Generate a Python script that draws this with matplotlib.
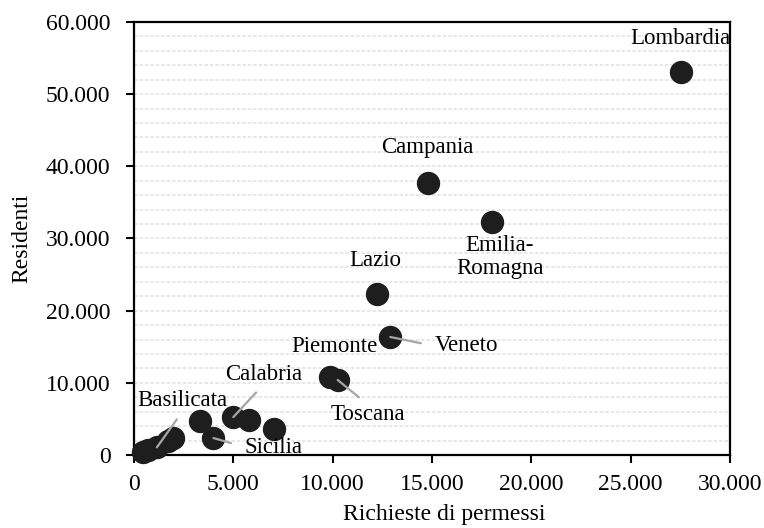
import matplotlib.pyplot as plt
from matplotlib.ticker import MultipleLocator, FuncFormatter

# data (approximate)
regions = ["Altre1", "Basilicata", "Altre2", "Altre3", "Sicilia", "Calabria", "Altre4",
           "Altre5", "Piemonte", "Toscana", "Veneto", "Lazio", "Emilia-Romagna",
           "Campania", "Lombardia", "Altre6", "Altre7"]
permessi = [450, 1150, 1950, 3300, 4000, 5000, 5800, 7050, 9850, 10250, 12900,
            12250, 18000, 14800, 27550, 700, 1700]
residenti = [400, 1050, 2300, 4700, 2350, 5250, 4850, 3600, 10800, 10400, 16350,
             22300, 32300, 37700, 53050, 700, 1900]

# label text, offset in pixels from the point, leader line (relpos, gap) or None
labels = {
    "Lombardia": ("Lombardia", (-1, 34), None),
    "Campania": ("Campania", (-1, 35), None),
    "Emilia-Romagna": ("Emilia-\nRomagna", (8, -35), None),
    "Lazio": ("Lazio", (-2, 34), None),
    "Piemonte": ("Piemonte", (5, 31), None),
    "Veneto": ("Veneto", (76, -9), ((0, 0.5), 8)),
    "Toscana": ("Toscana", (30, -35), ((0.5, 1), 5)),
    "Calabria": ("Calabria", (30, 43), ((0.5, 0), 5)),
    "Basilicata": ("Basilicata", (26, 47), ((0.5, 0), 5)),
    "Sicilia": ("Sicilia", (60, -9), ((0, 0.5), 8)),
}

plt.rcParams["font.family"] = ["Liberation Serif", "DejaVu Serif"]

fig = plt.figure(figsize=(7.64, 5.28), dpi=100)
ax = fig.add_axes([0.1754, 0.1383, 0.7801, 0.82])

ax.scatter(permessi, residenti, s=250, color="#1e1e1e", zorder=3, clip_on=False)

for name, x, y in zip(regions, permessi, residenti):
    if name not in labels:
        continue
    text, off, leader = labels[name]
    props = None
    if leader:
        rp, gap = leader
        props = dict(arrowstyle="-", color="#a6a6a6", lw=1.6, relpos=rp,
                     shrinkA=gap, shrinkB=0)
    ax.annotate(text, xy=(x, y), xytext=off, textcoords="offset pixels",
                ha="center", va="center", fontsize=16.5, linespacing=1.1,
                arrowprops=props, zorder=4)

ax.set_xlim(0, 30000)
ax.set_ylim(0, 60000)
ax.xaxis.set_major_locator(MultipleLocator(5000))
ax.yaxis.set_major_locator(MultipleLocator(10000))
ax.yaxis.set_minor_locator(MultipleLocator(2000))

fmt = FuncFormatter(lambda v, p: f"{int(v):,}".replace(",", "."))
ax.xaxis.set_major_formatter(fmt)
ax.yaxis.set_major_formatter(fmt)

ax.grid(axis="y", which="both", color="#e6e6e6", linestyle=(0, (2, 1)), lw=1.3)
ax.set_axisbelow(True)
ax.tick_params(axis="both", which="major", direction="out", length=6, width=1.5,
               labelsize=17)
ax.tick_params(axis="x", pad=8)
ax.tick_params(axis="y", pad=11)
ax.tick_params(axis="y", which="minor", length=0)
for sp in ax.spines.values():
    sp.set_linewidth(1.6)
    sp.set_color("black")

ax.set_xlabel("Richieste di permessi", fontsize=17)
ax.xaxis.set_label_coords(0.52, -0.114)
ax.set_ylabel("Residenti", fontsize=17, labelpad=10)

fig.savefig("out.png", dpi=100)
